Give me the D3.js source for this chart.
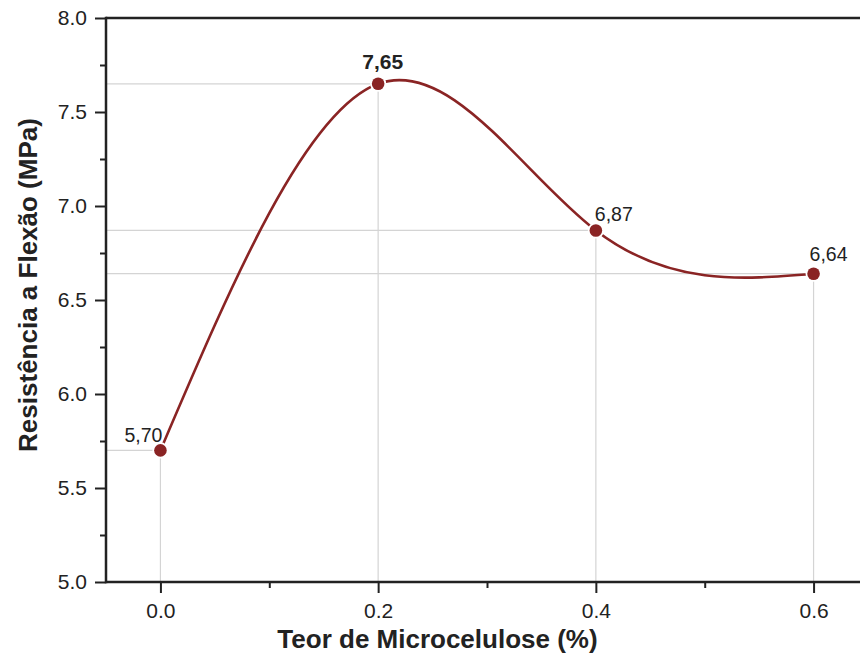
<!DOCTYPE html>
<html>
<head>
<meta charset="utf-8">
<script src="https://cdn.jsdelivr.net/npm/d3@7"></script>
<style>
  html, body { margin: 0; padding: 0; background: #fff; }
  svg { display: block; font-family: "Liberation Sans", Arial, Helvetica, sans-serif; }
</style>
</head>
<body>
<svg id="chart" width="860" height="659"></svg>
<script>
// Flexural strength vs. microcellulose content
const teor = [0.0, 0.2, 0.4, 0.6];
const resistencia = [5.70, 7.65, 6.87, 6.64];
const rotulos = ["5,70", "7,65", "6,87", "6,64"];
const xTicks = [0.0, 0.2, 0.4, 0.6];
const xMinorTicks = [0.1, 0.3, 0.5];
const yTicks = [5.0, 5.5, 6.0, 6.5, 7.0, 7.5, 8.0];
const yMinorTicks = [5.25, 5.75, 6.25, 6.75, 7.25, 7.75];

const data = teor.map((t, i) => ({ x: t, y: resistencia[i], label: rotulos[i] }));

const svg = d3.select("#chart");
const plotLeft = 106, plotTop = 18, plotBottom = 582;

const x = d3.scaleLinear().domain([-0.05, 0.65]).range([plotLeft, 868]);
const y = d3.scaleLinear().domain([5.0, 8.0]).range([plotBottom, plotTop]);

const lineColor = "#8a2424";
const axisColor = "#222";
const textColor = "#222";

// drop lines from each point to the axes
const drops = svg.append("g").attr("stroke", "#d4d4d4").attr("stroke-width", 1.2);
data.forEach(d => {
  drops.append("line").attr("x1", plotLeft).attr("x2", x(d.x)).attr("y1", y(d.y)).attr("y2", y(d.y));
  drops.append("line").attr("x1", x(d.x)).attr("x2", x(d.x)).attr("y1", y(d.y)).attr("y2", plotBottom);
});

// smooth curve through the measurements
const line = d3.line().x(d => x(d.x)).y(d => y(d.y)).curve(d3.curveNatural);
svg.append("path").datum(data)
  .attr("d", line)
  .attr("fill", "none")
  .attr("stroke", lineColor)
  .attr("stroke-width", 2.6);

// markers with a white halo that opens a gap in the curve
svg.append("g").selectAll("circle").data(data).join("circle")
  .attr("cx", d => x(d.x)).attr("cy", d => y(d.y))
  .attr("r", 6.3)
  .attr("fill", lineColor)
  .attr("stroke", "#fff")
  .attr("stroke-width", 3.5)
  .attr("paint-order", "stroke");

// axes
const xAxis = d3.axisBottom(x).tickValues(xTicks).tickFormat(d3.format(".1f")).tickSize(11).tickPadding(10);
const xAxisMinor = d3.axisBottom(x).tickValues(xMinorTicks).tickFormat("").tickSize(6);
const yAxis = d3.axisLeft(y).tickValues(yTicks).tickFormat(d3.format(".1f")).tickSize(11).tickPadding(8);
const yAxisMinor = d3.axisLeft(y).tickValues(yMinorTicks).tickFormat("").tickSize(6);

function styleAxis(g) {
  g.select(".domain").remove();
  g.selectAll("line").attr("stroke", axisColor).attr("stroke-width", 2);
  g.selectAll("text").attr("fill", textColor).attr("font-size", 21).attr("font-family", null);
}

svg.append("g").attr("transform", `translate(0,${plotBottom})`).call(xAxis).call(styleAxis);
svg.append("g").attr("transform", `translate(0,${plotBottom})`).call(xAxisMinor).call(styleAxis);
svg.append("g").attr("transform", `translate(${plotLeft},0)`).call(yAxis).call(styleAxis);
svg.append("g").attr("transform", `translate(${plotLeft},0)`).call(yAxisMinor).call(styleAxis);

// frame lines
svg.append("line").attr("x1", plotLeft).attr("x2", 860).attr("y1", plotBottom).attr("y2", plotBottom)
  .attr("stroke", axisColor).attr("stroke-width", 2.5);
svg.append("line").attr("x1", plotLeft).attr("x2", 860).attr("y1", plotTop).attr("y2", plotTop)
  .attr("stroke", axisColor).attr("stroke-width", 2.5);
svg.append("line").attr("x1", plotLeft).attr("x2", plotLeft).attr("y1", plotTop - 1.2).attr("y2", plotBottom + 1.2)
  .attr("stroke", axisColor).attr("stroke-width", 2.5);

// value labels
const labelPos = [
  { dx: 2, dy: -8.5, anchor: "end", weight: "normal", size: 19.5 },
  { dx: 4.5, dy: -14.5, anchor: "middle", weight: "bold", size: 21 },
  { dx: -1, dy: -9.5, anchor: "start", weight: "normal", size: 19.5 },
  { dx: -4, dy: -13, anchor: "start", weight: "normal", size: 19.5 }
];
svg.append("g").selectAll("text").data(data).join("text")
  .attr("x", (d, i) => x(d.x) + labelPos[i].dx)
  .attr("y", (d, i) => y(d.y) + labelPos[i].dy)
  .attr("text-anchor", (d, i) => labelPos[i].anchor)
  .attr("font-weight", (d, i) => labelPos[i].weight)
  .attr("font-size", (d, i) => labelPos[i].size)
  .attr("fill", textColor)
  .text(d => d.label);

// axis titles
svg.append("text")
  .attr("x", 437.5).attr("y", 648)
  .attr("text-anchor", "middle")
  .attr("font-weight", "bold").attr("font-size", 26).attr("fill", textColor)
  .text("Teor de Microcelulose (%)");

svg.append("text")
  .attr("transform", "translate(37,285) rotate(-90)")
  .attr("text-anchor", "middle")
  .attr("font-weight", "bold").attr("font-size", 26).attr("fill", textColor)
  .text("Resistência a Flexão (MPa)");
</script>
</body>
</html>
